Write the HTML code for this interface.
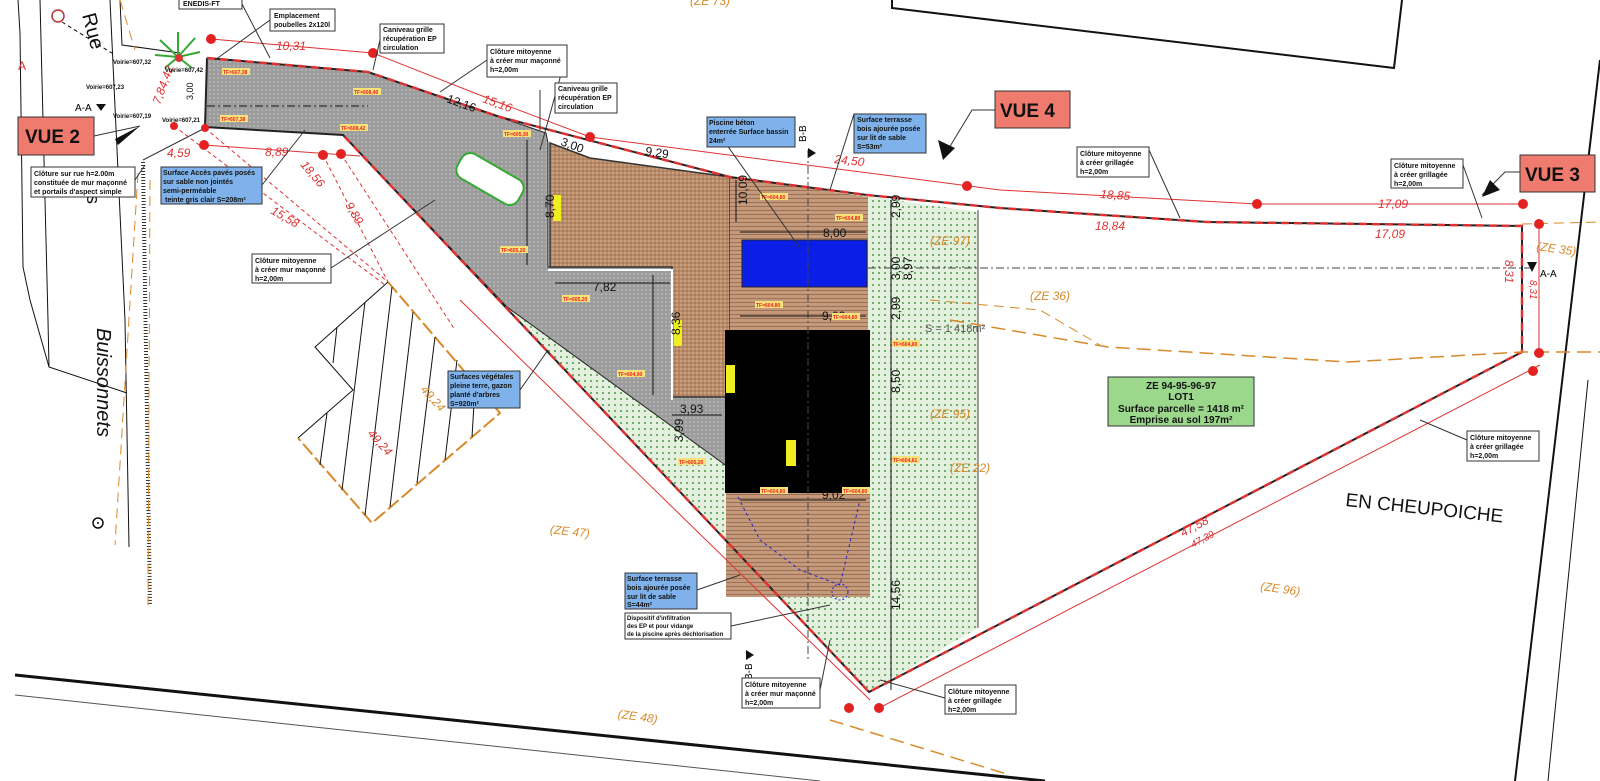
<!DOCTYPE html>
<html><head><meta charset="utf-8"><style>
html,body{margin:0;padding:0;background:#fff;}
svg{display:block;font-family:"Liberation Sans",sans-serif;}
.bx{fill:#fff;stroke:#333;stroke-width:1;}
.bl{fill:#7fb2ea;stroke:#333;stroke-width:1;}
.t{font-size:7px;font-weight:bold;fill:#111;}
.dim{font-size:12px;fill:#d33;font-style:italic;}
.dk{font-size:12px;fill:#111;}
.or{font-size:12px;fill:#d88a2a;font-style:italic;}
.vue{font-size:19px;font-weight:bold;fill:#111;}
</style></head><body>
<svg width="1600" height="781" viewBox="0 0 1600 781" xmlns="http://www.w3.org/2000/svg">
<defs>
<pattern id="gr" width="4" height="4" patternUnits="userSpaceOnUse"><rect width="4" height="4" fill="#9c9c9c"/><circle cx="2" cy="2" r="0.8" fill="#c8c8c8"/></pattern>
<pattern id="br" width="4" height="4" patternUnits="userSpaceOnUse"><rect width="4" height="4" fill="#b88a68"/><circle cx="1" cy="1" r="0.7" fill="#e2c3a6"/><circle cx="3" cy="3" r="0.6" fill="#8a5e40"/></pattern>
<pattern id="gn" width="6" height="6" patternUnits="userSpaceOnUse"><rect width="6" height="6" fill="#e4f0de"/><circle cx="3" cy="3" r="1" fill="#4d9a4a"/></pattern>
<pattern id="wd" width="6" height="4" patternUnits="userSpaceOnUse"><rect width="6" height="4" fill="#c49a7c"/><rect y="2" width="6" height="1" fill="#9e6f52"/></pattern>
</defs>

<!-- top right building -->
<polyline points="892,0 892,8 1394,68 1402,0" fill="none" stroke="#111" stroke-width="2"/>
<line x1="1600" y1="60" x2="1515" y2="781" stroke="#111" stroke-width="2"/>
<line x1="1588" y1="380" x2="1548" y2="781" stroke="#111" stroke-width="1"/>
<line x1="15" y1="675" x2="1045" y2="781" stroke="#111" stroke-width="3"/>
<line x1="15" y1="695" x2="820" y2="781" stroke="#555" stroke-width="1"/>

<!-- left road -->
<polyline points="18,0 20,33 23,267 30,300 49,367 127,393" fill="none" stroke="#111"/>
<polyline points="40,0 48,320 49,367" fill="none" stroke="#111"/>
<polyline points="110,0 125,320 129,547" fill="none" stroke="#111"/>
<polyline points="120,0 122,45 180,53" fill="none" stroke="#111"/>
<line x1="143" y1="162" x2="150" y2="605" stroke="#333" stroke-width="4" stroke-dasharray="1 2"/>
<line x1="143" y1="160" x2="205" y2="128" stroke="#333"/>
<line x1="138" y1="173" x2="115" y2="545" stroke="#d88a2a" stroke-dasharray="10 6"/>
<line x1="150" y1="180" x2="148" y2="605" stroke="#d88a2a" stroke-dasharray="10 6"/>
<line x1="120" y1="0" x2="135" y2="50" stroke="#d88a2a" stroke-dasharray="10 6"/>
<circle cx="98" cy="523" r="5" fill="none" stroke="#111" stroke-width="1.5"/><circle cx="98" cy="523" r="1" fill="#111"/>
<circle cx="58" cy="16" r="6" fill="none" stroke="#b33" stroke-width="1.5"/>
<line x1="62" y1="22" x2="115" y2="55" stroke="#111" stroke-dasharray="4 3"/>
<text transform="translate(82,15) rotate(75)" style="font-size:20px;fill:#111">Rue</text>
<text transform="translate(97,328) rotate(90)" style="font-size:20px;fill:#111;font-style:italic">Buissonnets</text>
<text transform="translate(87,195) rotate(90)" style="font-size:18px;fill:#111">s</text>
<text x="18" y="70" style="font-size:12px;fill:#d33">A</text>

<!-- hatched diamond -->
<polygon points="388,282 500,413 372,523 298,438 353,390 315,347" fill="#fff" stroke="none"/>
<polyline points="388,282 500,413 372,523 298,438" fill="none" stroke="#d88a2a" stroke-width="2" stroke-dasharray="14 4"/>
<polyline points="298,438 353,390 315,347 388,282" fill="none" stroke="#111"/>
<g stroke="#111" stroke-width="1">
<line x1="392" y1="287" x2="365" y2="515"/><line x1="365" y1="302" x2="342" y2="490"/><line x1="413" y1="312" x2="390" y2="507"/>
<line x1="435" y1="337" x2="417" y2="483"/><line x1="457" y1="360" x2="445" y2="460"/><line x1="337" y1="327" x2="333" y2="363"/>
<line x1="327" y1="413" x2="320" y2="465"/><line x1="475" y1="387" x2="472" y2="437"/>
</g>
<text x="550" y="534" class="or" transform="rotate(6 556 530)">(ZE 47)</text>
<text x="618" y="720" class="or" transform="rotate(8 634 714)">(ZE 48)</text>
<text x="690" y="5" class="or">(ZE 73)</text>

<!-- green area -->
<polygon points="507,307 740,178 978,212 978,628 869,692" fill="url(#gn)"/>
<line x1="978" y1="210" x2="978" y2="628" stroke="#444"/>
<polygon points="207,58 368,72 546,133 548,143 548,267 672,267 672,397 726,397 726,467 728,467 507,307 343,135 205,127" fill="url(#gr)" stroke="#222" stroke-width="1"/>
<polygon points="550,143 590,158 730,177 730,397 672,397 672,267 550,267" fill="url(#br)" stroke="#333" stroke-width="1.5"/>
<polyline points="548,270 672,270 672,400" fill="none" stroke="#fff" stroke-width="2"/>
<polygon points="730,177 868,197 868,330 730,330" fill="url(#wd)"/>
<rect x="742" y="240" width="125" height="47" fill="#0a1ee8" stroke="#223" stroke-width="1"/>
<rect x="725" y="330" width="145" height="163" fill="#000"/>
<rect x="726" y="493" width="144" height="104" fill="url(#wd)"/>
<rect x="786" y="440" width="10" height="26" fill="#ee2"/>
<rect x="726" y="365" width="9" height="28" fill="#ee2"/>
<rect x="553" y="195" width="8" height="26" fill="#ee2"/>
<rect x="674" y="320" width="8" height="26" fill="#ee2"/>
<!-- car -->
<rect x="455" y="165" width="70" height="28" rx="10" fill="#fff" stroke="#3a3" stroke-width="2" transform="rotate(30 490 179)"/>
<!-- tree -->
<g stroke="#3a3" stroke-width="2"><line x1="178" y1="57" x2="160" y2="40"/><line x1="178" y1="57" x2="195" y2="38"/><line x1="178" y1="57" x2="155" y2="55"/><line x1="178" y1="57" x2="200" y2="52"/><line x1="178" y1="57" x2="178" y2="32"/><line x1="178" y1="57" x2="165" y2="68"/><line x1="178" y1="57" x2="192" y2="68"/></g>
<circle cx="179" cy="58" r="4" fill="#d33"/>

<!-- parcel boundary -->
<polyline points="207,58 368,72 500,117 730,177 867,195 1000,208 1207,222 1522,226 1522,352 869,692 343,135 205,127 207,58" fill="none" stroke="#222" stroke-width="2"/>
<polyline points="207,58 368,72 500,117 730,177 867,195 1000,208 1207,222 1522,226 1522,352 869,692 343,135" fill="none" stroke="#d33" stroke-width="2.5" stroke-dasharray="8 5"/>
<polyline points="211,39 373,53 500,103 590,137 1000,190 1257,204 1525,204" fill="none" stroke="#d33" stroke-width="1"/>
<line x1="879" y1="708" x2="1540" y2="365" stroke="#d33" stroke-width="1"/>
<line x1="460" y1="300" x2="870" y2="700" stroke="#d33"/>
<line x1="204" y1="145" x2="360" y2="156" stroke="#d33"/>
<line x1="174" y1="126" x2="385" y2="285" stroke="#d33" stroke-dasharray="4 3"/>
<line x1="205" y1="128" x2="388" y2="282" stroke="#d33" stroke-dasharray="4 3"/>
<line x1="341" y1="154" x2="455" y2="330" stroke="#d33" stroke-dasharray="4 3"/>
<line x1="323" y1="155" x2="388" y2="282" stroke="#d33" stroke-dasharray="4 3"/>
<line x1="1539" y1="224" x2="1539" y2="353" stroke="#d33"/>
<line x1="1522" y1="224" x2="1600" y2="222" stroke="#d88a2a" stroke-dasharray="10 6"/>
<polyline points="950,320 1108,347 1348,362 1522,352 1600,352" fill="none" stroke="#d88a2a" stroke-width="1.5" stroke-dasharray="14 7"/>
<polyline points="930,300 1040,310 1100,345" fill="none" stroke="#d88a2a" stroke-dasharray="10 6"/>
<line x1="830" y1="720" x2="1010" y2="775" stroke="#d88a2a" stroke-width="1.5" stroke-dasharray="14 7"/>
<g fill="#e52222">
<circle cx="211" cy="39" r="5"/><circle cx="373" cy="53" r="5"/><circle cx="205" cy="128" r="4"/><circle cx="204" cy="145" r="5"/><circle cx="323" cy="155" r="5"/><circle cx="341" cy="154" r="5"/><circle cx="174" cy="126" r="4"/><circle cx="590" cy="137" r="5"/><circle cx="967" cy="186" r="5"/><circle cx="1257" cy="204" r="5"/><circle cx="1523" cy="204" r="5"/><circle cx="1539" cy="224" r="5"/><circle cx="1539" cy="353" r="5"/><circle cx="1533" cy="371" r="5"/><circle cx="879" cy="708" r="5"/><circle cx="849" cy="708" r="5"/>
</g>
<line x1="207" y1="106" x2="368" y2="106" stroke="#111" stroke-dasharray="8 3 2 3"/>
<line x1="868" y1="268" x2="1530" y2="268" stroke="#444" stroke-dasharray="8 3 2 3"/>
<polygon points="1527,262 1537,262 1532,272" fill="#111"/>
<text x="1540" y="277" style="font-size:10px">A-A</text>
<polygon points="96,104 106,104 101,111" fill="#111"/>
<text x="75" y="111" style="font-size:10px">A-A</text>
<line x1="808" y1="150" x2="808" y2="660" stroke="#444" stroke-dasharray="8 3 2 3"/>
<polygon points="808,148 808,158 816,153" fill="#111"/>
<text transform="translate(806,142) rotate(-90)" style="font-size:10px">B-B</text>
<polygon points="746,650 746,660 754,655" fill="#111"/>
<text transform="translate(752,680) rotate(-90)" style="font-size:10px">B-B</text>
<polyline points="738,497 760,540 800,570 840,585 860,500" fill="none" stroke="#22c" stroke-dasharray="3 3"/>
<circle cx="840" cy="592" r="8" fill="none" stroke="#22c" stroke-dasharray="2 2"/>

<g stroke="#111" stroke-width="1">
<line x1="740" y1="232" x2="866" y2="232"/><line x1="740" y1="316" x2="866" y2="316"/><line x1="740" y1="500" x2="866" y2="500"/>
<line x1="555" y1="283" x2="670" y2="283"/><line x1="672" y1="415" x2="722" y2="415"/>
<line x1="653" y1="275" x2="653" y2="395"/><line x1="527" y1="140" x2="527" y2="265"/>
<line x1="891" y1="200" x2="891" y2="690"/><line x1="736" y1="180" x2="736" y2="222"/>
</g>
<g class="dk">
<text x="823" y="237">8,00</text><text x="822" y="320">9,02</text><text x="822" y="499">9,02</text>
<text x="593" y="291">7,82</text><text x="680" y="413">3,93</text>
<text transform="translate(680,335) rotate(-90)">8,36</text>
<text transform="translate(554,218) rotate(-90)">8,70</text>
<text transform="translate(683,442) rotate(-90)">3,99</text>
<text transform="translate(747,205) rotate(-90)">10,09</text>
<text transform="translate(900,218) rotate(-90)">2,99</text><text transform="translate(900,280) rotate(-90)">3,00</text>
<text transform="translate(912,280) rotate(-90)">8,97</text><text transform="translate(900,320) rotate(-90)">2,99</text>
<text transform="translate(900,393) rotate(-90)">8,50</text><text transform="translate(900,610) rotate(-90)">14,56</text>
<text x="645" y="155" transform="rotate(8 645 155)">9,29</text>
<text x="560" y="145" transform="rotate(20 560 145)">3,00</text>
<text x="446" y="102" transform="rotate(20 446 102)">12,16</text>
<text x="193" y="100" transform="rotate(-90 193 100)" style="font-size:9px">3,00</text>
</g>
<g class="dim">
<text x="276" y="50">10,31</text><text x="482" y="102" transform="rotate(20 482 102)">15,16</text>
<text x="834" y="163" transform="rotate(6 834 163)">24,50</text><text x="1100" y="198" transform="rotate(4 1100 198)">18,85</text>
<text x="1095" y="230">18,84</text><text x="1378" y="208">17,09</text><text x="1375" y="238">17,09</text>
<text x="167" y="157">4,59</text><text x="265" y="156">8,89</text>
<text x="300" y="165" transform="rotate(50 300 165)">18,56</text><text x="270" y="213" transform="rotate(30 270 213)">15,58</text>
<text x="345" y="205" transform="rotate(60 345 205)">9,89</text>
<text x="160" y="105" transform="rotate(-70 160 105)">7,84,42</text>
<text x="367" y="434" transform="rotate(48 367 434)">49,24</text>
<text x="420" y="390" transform="rotate(48 420 390)" style="fill:#d88a2a">49,24</text>
<text x="1505" y="260" transform="rotate(90 1505 260)">8,31</text><text x="1530" y="280" transform="rotate(90 1530 280)" style="font-size:10px">8,31</text>
<text x="1183" y="537" transform="rotate(-28 1183 537)">47,58</text><text x="1193" y="548" transform="rotate(-28 1193 548)" style="font-size:10px">47,39</text>
</g>
<g class="or">
<text x="1536" y="250" transform="rotate(8 1536 250)">(ZE 35)</text>
<text x="1030" y="300">(ZE 36)</text><text x="930" y="245">(ZE 97)</text>
<text x="930" y="418">(ZE 95)</text><text x="950" y="472">(ZE 22)</text>
<text x="1260" y="590" transform="rotate(8 1260 590)">(ZE 96)</text>
</g>
<text x="925" y="332" style="font-size:11px;fill:#555">S = 1 418m²</text>
<text x="1345" y="506" transform="rotate(6 1345 506)" style="font-size:19px;fill:#111">EN CHEUPOICHE</text>

<!-- TF small labels -->
<g font-size="5" font-weight="bold" fill="#e22">
<rect x="222" y="68" width="28" height="7" fill="#f5e27a"/><text x="223" y="74">TF=607,38</text>
<rect x="220" y="115" width="28" height="7" fill="#f5e27a"/><text x="221" y="121">TF=607,38</text>
<rect x="340" y="124" width="28" height="7" fill="#f5e27a"/><text x="341" y="130">TF=608,42</text>
<rect x="353" y="88" width="28" height="7" fill="#f5e27a"/><text x="354" y="94">TF=608,40</text>
<rect x="503" y="130" width="28" height="7" fill="#f5e27a"/><text x="504" y="136">TF=605,30</text>
<rect x="500" y="246" width="28" height="7" fill="#f5e27a"/><text x="501" y="252">TF=605,20</text>
<rect x="562" y="295" width="28" height="7" fill="#f5e27a"/><text x="563" y="301">TF=605,20</text>
<rect x="617" y="370" width="28" height="7" fill="#f5e27a"/><text x="618" y="376">TF=604,90</text>
<rect x="678" y="458" width="28" height="7" fill="#f5e27a"/><text x="679" y="464">TF=605,20</text>
<rect x="760" y="193" width="28" height="7" fill="#f5e27a"/><text x="761" y="199">TF=604,80</text>
<rect x="835" y="214" width="28" height="7" fill="#f5e27a"/><text x="836" y="220">TF=604,80</text>
<rect x="755" y="301" width="28" height="7" fill="#f5e27a"/><text x="756" y="307">TF=604,80</text>
<rect x="832" y="313" width="28" height="7" fill="#f5e27a"/><text x="833" y="319">TF=604,80</text>
<rect x="892" y="340" width="28" height="7" fill="#f5e27a"/><text x="893" y="346">TF=604,60</text>
<rect x="892" y="456" width="28" height="7" fill="#f5e27a"/><text x="893" y="462">TF=604,61</text>
<rect x="760" y="487" width="28" height="7" fill="#f5e27a"/><text x="761" y="493">TF=604,80</text>
<rect x="842" y="487" width="28" height="7" fill="#f5e27a"/><text x="843" y="493">TF=604,80</text>
</g>

<!-- VUE boxes -->
<rect x="18" y="117" width="76" height="38" fill="#ef7b6e" stroke="#333"/><text x="25" y="143" class="vue">VUE 2</text>
<polygon points="115,139 140,126 118,145" fill="#111"/><line x1="94" y1="136" x2="140" y2="126" stroke="#333"/>
<rect x="995" y="91" width="75" height="37" fill="#ef7b6e" stroke="#333"/><text x="1000" y="117" class="vue">VUE 4</text>
<polyline points="995,110 972,110 943,158" fill="none" stroke="#333"/><polygon points="943,160 938,140 955,148" fill="#111"/>
<rect x="1520" y="155" width="75" height="37" fill="#ef7b6e" stroke="#333"/><text x="1525" y="181" class="vue">VUE 3</text>
<polyline points="1520,172 1505,172 1482,195" fill="none" stroke="#333"/><polygon points="1482,197 1490,180 1500,190" fill="#111"/>

<g stroke="#333" fill="none">
<polyline points="242,4 270,58"/><polyline points="270,20 215,60"/><polyline points="380,40 373,70"/>
<polyline points="487,60 440,92"/><polyline points="565,60 540,150"/><polyline points="540,90 540,130"/>
<polyline points="262,185 305,130"/><polyline points="331,268 435,200"/><polyline points="520,390 548,350"/>
<polyline points="707,117 800,248"/><polyline points="854,114 830,190"/><polyline points="1149,150 1180,218"/>
<polyline points="1463,165 1482,218"/><polyline points="1467,440 1420,420"/><polyline points="945,698 880,680"/>
<polyline points="820,690 830,640"/><polyline points="697,590 740,575"/><polyline points="731,626 830,605"/>
<polyline points="135,180 145,165"/>
</g>
<rect x="179" y="-2" width="63" height="11" class="bx"/><text x="183" y="6" class="t">ENEDIS-FT</text>
<rect x="270" y="9" width="65" height="22" class="bx"/><text x="274" y="18" class="t">Emplacement</text><text x="274" y="27" class="t">poubelles 2x120l</text>
<rect x="380" y="24" width="64" height="29" class="bx"/><text x="383" y="32" class="t">Caniveau grille</text><text x="383" y="41" class="t">récupération EP</text><text x="383" y="50" class="t">circulation</text>
<rect x="487" y="45" width="80" height="32" class="bx"/><text x="490" y="54" class="t">Clôture mitoyenne</text><text x="490" y="63" class="t">à créer mur maçonné</text><text x="490" y="72" class="t">h=2,00m</text>
<rect x="555" y="83" width="62" height="30" class="bx"/><text x="558" y="91" class="t">Caniveau grille</text><text x="558" y="100" class="t">récupération EP</text><text x="558" y="109" class="t">circulation</text>
<rect x="31" y="167" width="104" height="30" class="bx"/><text x="34" y="176" class="t">Clôture sur rue h=2.00m</text><text x="34" y="185" class="t">constituée de mur maçonné</text><text x="34" y="194" class="t">et portails d'aspect simple</text>
<rect x="161" y="167" width="101" height="37" class="bl"/><text x="163" y="175" class="t">Surface Accès pavés posés</text><text x="163" y="184" class="t">sur sable non jointés</text><text x="163" y="193" class="t">semi-perméable</text><text x="165" y="202" class="t">teinte gris clair S=208m²</text>
<rect x="252" y="254" width="79" height="29" class="bx"/><text x="255" y="263" class="t">Clôture mitoyenne</text><text x="255" y="272" class="t">à créer mur maçonné</text><text x="255" y="281" class="t">h=2,00m</text>
<rect x="707" y="117" width="88" height="30" class="bl"/><text x="709" y="125" class="t">Piscine béton</text><text x="709" y="134" class="t">enterrée Surface bassin</text><text x="709" y="143" class="t">24m²</text>
<rect x="854" y="114" width="72" height="39" class="bl"/><text x="857" y="122" class="t">Surface terrasse</text><text x="857" y="131" class="t">bois ajourée posée</text><text x="857" y="140" class="t">sur lit de sable</text><text x="857" y="149" class="t">S=53m²</text>
<rect x="448" y="371" width="72" height="37" class="bl"/><text x="450" y="379" class="t">Surfaces végétales</text><text x="450" y="388" class="t">pleine terre, gazon</text><text x="450" y="397" class="t">planté d'arbres</text><text x="450" y="406" class="t">S=920m²</text>
<rect x="625" y="573" width="72" height="36" class="bl"/><text x="627" y="581" class="t">Surface terrasse</text><text x="627" y="590" class="t">bois ajourée posée</text><text x="627" y="599" class="t">sur lit de sable</text><text x="627" y="607" class="t">S=44m²</text>
<rect x="625" y="613" width="106" height="26" class="bx"/><text x="627" y="620" class="t" style="font-size:6px">Dispositif d'infiltration</text><text x="627" y="628" class="t" style="font-size:6px">des EP et pour vidange</text><text x="627" y="636" class="t" style="font-size:6px">de la piscine après déchlorisation</text>
<rect x="742" y="678" width="78" height="30" class="bx"/><text x="745" y="687" class="t">Clôture mitoyenne</text><text x="745" y="696" class="t">à créer mur maçonné</text><text x="745" y="705" class="t">h=2,00m</text>
<rect x="945" y="685" width="71" height="29" class="bx"/><text x="948" y="694" class="t">Clôture mitoyenne</text><text x="948" y="703" class="t">à créer grillagée</text><text x="948" y="712" class="t">h=2,00m</text>
<rect x="1077" y="147" width="72" height="30" class="bx"/><text x="1080" y="156" class="t">Clôture mitoyenne</text><text x="1080" y="165" class="t">à créer grillagée</text><text x="1080" y="174" class="t">h=2,00m</text>
<rect x="1391" y="159" width="72" height="29" class="bx"/><text x="1394" y="168" class="t">Clôture mitoyenne</text><text x="1394" y="177" class="t">à créer grillagée</text><text x="1394" y="186" class="t">h=2,00m</text>
<rect x="1467" y="431" width="72" height="30" class="bx"/><text x="1470" y="440" class="t">Clôture mitoyenne</text><text x="1470" y="449" class="t">à créer grillagée</text><text x="1470" y="458" class="t">h=2,00m</text>
<rect x="1108" y="377" width="146" height="49" fill="#9bd88c" stroke="#333"/>
<g style="font-size:10px;font-weight:bold;fill:#111" text-anchor="middle">
<text x="1181" y="389">ZE 94-95-96-97</text><text x="1181" y="400">LOT1</text><text x="1181" y="412">Surface parcelle = 1418 m²</text><text x="1181" y="423">Emprise au sol 197m²</text>
</g>
<g style="font-size:6px;font-weight:bold;fill:#111">
<text x="113" y="64">Voirie=607,32</text><text x="165" y="72">Voirie=607,42</text><text x="86" y="89">Voirie=607,23</text>
<text x="113" y="118">Voirie=607,19</text><text x="162" y="122">Voirie=607,21</text>
</g>
</svg>
</body></html>
